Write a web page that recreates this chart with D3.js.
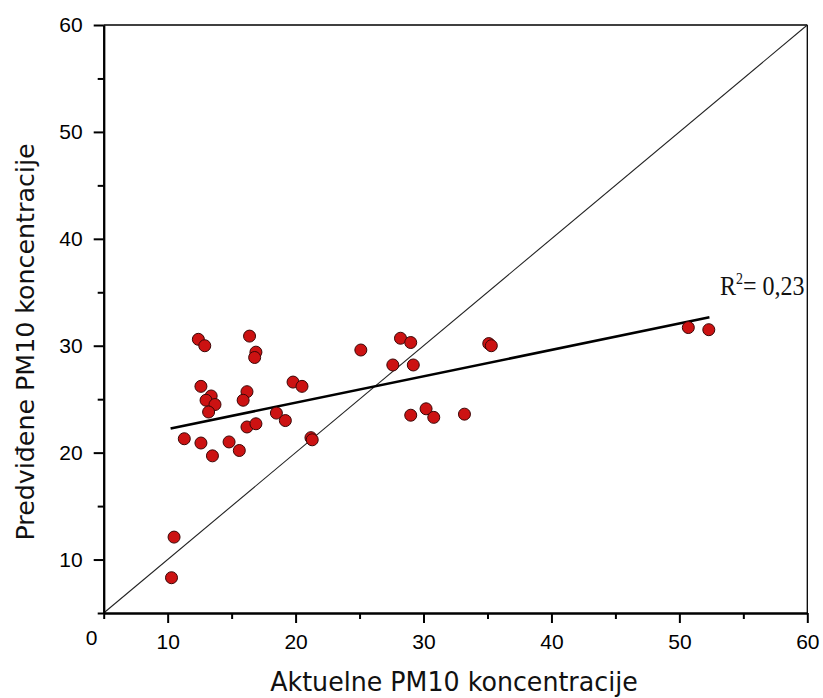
<!DOCTYPE html>
<html>
<head>
<meta charset="utf-8">
<script src="https://cdn.jsdelivr.net/npm/d3@7"></script>
<style>
  html, body { margin: 0; padding: 0; background: #ffffff; }
  svg { display: block; }
</style>
</head>
<body>
<svg id="chart" width="823" height="698"></svg>
<script>
// ---- data ----
const actual = [10.5, 10.3, 11.3, 12.4, 12.9, 12.6, 13.4, 13.0, 13.7, 13.2,
                12.6, 13.5, 14.8, 15.6, 16.4, 16.9, 16.8, 16.2, 15.9, 16.2,
                16.9, 18.5, 19.2, 19.8, 20.5, 21.2, 21.3, 25.1, 28.2, 29.0,
                27.6, 29.2, 35.1, 35.3, 29.0, 30.2, 30.8, 33.2, 50.7, 52.3];
const predicted = [12.1, 8.3, 21.3, 30.6, 30.0, 26.2, 25.3, 24.9, 24.5, 23.8,
                   20.9, 19.7, 21.0, 20.2, 30.9, 29.4, 28.9, 25.7, 24.9, 22.4,
                   22.7, 23.7, 23.0, 26.6, 26.2, 21.4, 21.2, 29.6, 30.7, 30.3,
                   28.2, 28.2, 30.2, 30.0, 23.5, 24.1, 23.3, 23.6, 31.7, 31.5];
const majorTicks = [10, 20, 30, 40, 50, 60];
const minorTicks = [5, 15, 25, 35, 45, 55];
const axisDomain = [5, 60];
const fitSlope = 0.2467;
const fitIntercept = 19.74;
const fitRange = [10.23, 52.35];
const xTitle = "Aktuelne PM10 koncentracije";
const yTitle = "Predviđene PM10 koncentracije";
const originLabel = "0";

// ---- layout ----
const svg = d3.select("#chart");
const x = d3.scaleLinear().domain(axisDomain).range([103.7, 807.3]);
const y = d3.scaleLinear().domain(axisDomain).range([613, 25]);

const g = svg.append("g");

// frame (top, right)
g.append("line")
  .attr("x1", x(axisDomain[0])).attr("x2", x(axisDomain[1]))
  .attr("y1", y(axisDomain[1])).attr("y2", y(axisDomain[1]))
  .attr("stroke", "#000").attr("stroke-width", 1.3);
g.append("line")
  .attr("x1", x(axisDomain[1])).attr("x2", x(axisDomain[1]))
  .attr("y1", y(axisDomain[0])).attr("y2", y(axisDomain[1]))
  .attr("stroke", "#000").attr("stroke-width", 1.3);

// 1:1 line
g.append("line")
  .attr("x1", x(axisDomain[0])).attr("y1", y(axisDomain[0]))
  .attr("x2", x(axisDomain[1])).attr("y2", y(axisDomain[1]))
  .attr("stroke", "#222").attr("stroke-width", 1.1);

// regression line
g.append("line")
  .attr("x1", x(fitRange[0])).attr("y1", y(fitIntercept + fitSlope * fitRange[0]))
  .attr("x2", x(fitRange[1])).attr("y2", y(fitIntercept + fitSlope * fitRange[1]))
  .attr("stroke", "#000").attr("stroke-width", 2.6);

// points
const pts = actual.map((a, i) => ({a, p: predicted[i]}));
g.selectAll("circle.pt").data(pts).enter().append("circle")
  .attr("class", "pt")
  .attr("cx", d => x(d.a)).attr("cy", d => y(d.p)).attr("r", 6)
  .attr("fill", "#cc1212").attr("stroke", "#3a0606").attr("stroke-width", 1);

// axes
const tickFont = "'Liberation Sans', Arial, sans-serif";
function styleAxis(sel) {
  sel.attr("font-size", 21).attr("font-family", tickFont);
  sel.select(".domain").attr("stroke", "#000").attr("stroke-width", 2);
  sel.selectAll(".tick line").attr("stroke", "#000").attr("stroke-width", 2);
  sel.selectAll(".tick text").attr("fill", "#000");
}
const xMajor = g.append("g").attr("transform", `translate(0,${y(axisDomain[0])})`)
  .call(d3.axisBottom(x).tickValues(majorTicks).tickSize(10).tickPadding(11).tickSizeOuter(0));
styleAxis(xMajor);
const xMinor = g.append("g").attr("transform", `translate(0,${y(axisDomain[0])})`)
  .call(d3.axisBottom(x).tickValues(minorTicks).tickSize(6).tickFormat("").tickSizeOuter(0));
styleAxis(xMinor);
const yMajor = g.append("g").attr("transform", `translate(${x(axisDomain[0])},0)`)
  .call(d3.axisLeft(y).tickValues(majorTicks).tickSize(10).tickPadding(11).tickSizeOuter(0));
styleAxis(yMajor);
const yMinor = g.append("g").attr("transform", `translate(${x(axisDomain[0])},0)`)
  .call(d3.axisLeft(y).tickValues(minorTicks).tickSize(6).tickFormat("").tickSizeOuter(0));
styleAxis(yMinor);

// origin label
g.append("text")
  .attr("x", x(axisDomain[0]) - 12).attr("y", y(axisDomain[0]) + 32)
  .attr("text-anchor", "middle")
  .attr("font-family", tickFont).attr("font-size", 21)
  .text(originLabel);

// axis titles
const titleFont = "'DejaVu Sans', Verdana, sans-serif";
svg.append("text")
  .attr("transform", "translate(454,691) scale(1,1.08)")
  .attr("text-anchor", "middle")
  .attr("font-family", titleFont).attr("font-size", 25.3).attr("fill", "#111")
  .text(xTitle);
svg.append("text")
  .attr("transform", "translate(34,342) rotate(-90)")
  .attr("text-anchor", "middle")
  .attr("font-family", titleFont).attr("font-size", 25.3).attr("fill", "#111")
  .text(yTitle);

// R^2 label
const r2 = svg.append("text")
  .attr("transform", "translate(720,295) scale(1,1.15)")
  .attr("font-family", "'Liberation Serif', 'Times New Roman', serif")
  .attr("font-size", 24).attr("fill", "#111");
r2.append("tspan").text("R");
r2.append("tspan").attr("font-size", 14).attr("dy", -10).text("2");
r2.append("tspan").attr("dy", 10).text("= 0,23");
</script>
</body>
</html>
